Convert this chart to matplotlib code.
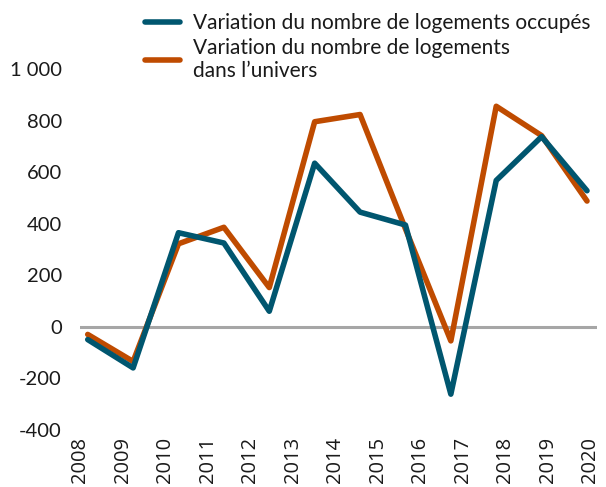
import numpy as np
import matplotlib
matplotlib.use("Agg")
import matplotlib.pyplot as plt

years = ["2008", "2009", "2010", "2011", "2012", "2013", "2014",
         "2015", "2016", "2017", "2018", "2019", "2020"]
occupes = [-50, -160, 365, 325, 60, 635, 445, 395, -262, 568, 738, 528]
univers = [-30, -135, 322, 386, 152, 796, 824, 380, -55, 856, 742, 488]

BLUE = "#00566F"
ORANGE = "#BF4B00"

plt.rcParams['font.family'] = ['Lato', 'DejaVu Sans']

fig = plt.figure(figsize=(6.06, 4.87), dpi=100)
ax = fig.add_axes([80 / 606, 1 - 429.7 / 487, 517 / 606, (429.7 - 69.2) / 487])

x = np.arange(len(occupes))
ax.axhline(0, color="#A6A6A6", lw=2.2, zorder=1)
ax.plot(x, univers, color=ORANGE, lw=4, solid_joinstyle="round",
        solid_capstyle="round", label="Variation du nombre de logements\ndans l\u2019univers", zorder=2)
ax.plot(x, occupes, color=BLUE, lw=4, solid_joinstyle="round",
        solid_capstyle="round", label="Variation du nombre de logements occup\u00e9s", zorder=3)

ax.set_xlim(-0.11, 11.22)
ax.set_ylim(-400, 1000)
ax.set_yticks(range(-400, 1001, 200))
ax.set_yticklabels(["-400", "-200", "0", "200", "400", "600", "800", "1 000"], fontsize=14.5)
ax.set_xticks(np.linspace(-0.17, 11.07, len(years)))
ax.set_xticklabels(years, rotation=90, fontsize=14.5, family=['Open Sans', 'DejaVu Sans'])
ax.tick_params(axis="y", length=0, pad=13, colors="#1a1a1a")
ax.tick_params(axis="x", length=0, pad=5, colors="#1a1a1a")
for s in ax.spines.values():
    s.set_visible(False)

h, l = ax.get_legend_handles_labels()
leg = fig.legend(h[::-1], l[::-1], loc="upper left", bbox_to_anchor=(126 / 606, 1.012),
                 frameon=False, fontsize=15, handlelength=1.7, handletextpad=0.6,
                 labelspacing=0.25)
for t in leg.get_texts():
    t.set_linespacing(1.15)
    t.set_color("#1a1a1a")

fig.savefig("out.png", dpi=100)
